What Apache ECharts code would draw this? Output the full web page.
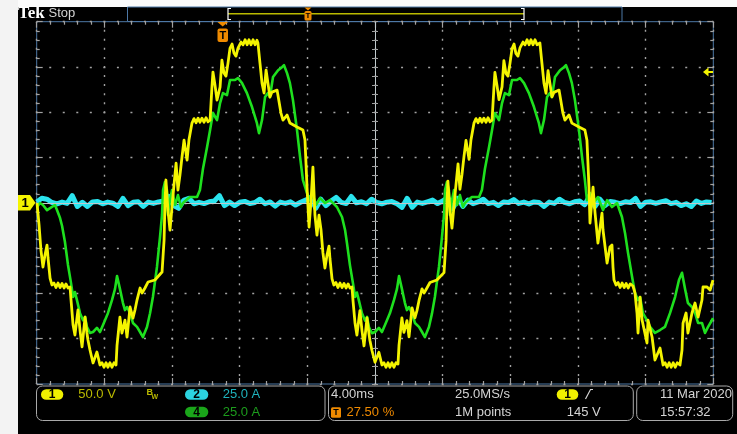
<!DOCTYPE html>
<html>
<head>
<meta charset="utf-8">
<script src="https://cdn.jsdelivr.net/npm/echarts/dist/echarts.min.js"></script>
<style>
html,body{margin:0;padding:0;background:#ffffff;}
#scope{width:737px;height:434px;}
</style>
</head>
<body>
<div id="scope"></div>
<script>
// Channel 1 (mains voltage, V) against time in ms, 0 ms = screen centre
const ch1Volts = [
  [-19.98,-0.2],[-19.86,-24.5],[-19.75,-52.1],[-19.63,-70.9],[-19.51,-57.6],[-19.39,-46.6],[-19.33,-60.9],[-19.21,-83.0],
  [-19.10,-90.7],[-18.98,-88.5],[-18.86,-93.5],[-18.74,-88.5],[-18.62,-93.5],[-18.50,-89.0],[-18.38,-94.0],[-18.27,-89.5],
  [-18.15,-94.0],[-18.03,-92.9],[-17.97,-107.3],[-17.85,-134.9],[-17.74,-145.9],[-17.62,-127.2],[-17.56,-118.3],
  [-17.44,-140.4],[-17.32,-159.1],[-17.14,-126.1],[-17.03,-143.7],[-16.97,-151.4],[-16.85,-162.5],[-16.67,-176.8],[-16.44,-164.7],
  [-16.26,-179.0],[-16.14,-176.5],[-16.02,-181.5],[-15.90,-176.5],[-15.79,-181.5],[-15.67,-176.5],[-15.55,-181.5],[-15.43,-176.5],
  [-15.31,-179.0],[-15.25,-157.0],[-15.08,-126.1],[-14.96,-143.7],[-14.78,-129.4],[-14.66,-148.1],
  [-14.48,-115.0],[-14.31,-127.2],[-14.19,-118.3],[-14.07,-107.3],[-13.89,-94.0],[-13.77,-99.5],[-13.60,-94.0],[-13.42,-87.4],
  [-13.01,-85.2],[-12.59,-76.4],[-12.47,-41.1],[-12.42,-2.4],[-12.36,25.2],[-12.24,-8.0],[-12.12,-30.0],[-11.94,8.6],
  [-11.76,43.9],[-11.65,14.1],[-11.53,30.7],[-11.41,50.6],[-11.29,69.3],[-11.11,47.2],[-11.00,69.3],[-10.82,88.1],
  [-10.70,93.0],[-10.58,88.5],[-10.46,93.5],[-10.35,89.0],[-10.23,93.5],[-10.11,89.0],[-9.99,94.0],[-9.87,89.5],
  [-9.75,91.4],[-9.64,127.8],[-9.58,144.4],[-9.46,130.0],[-9.34,113.5],[-9.16,127.8],[-9.05,157.6],
  [-8.93,143.3],[-8.81,139.9],[-8.69,154.3],[-8.57,170.9],[-8.45,175.3],[-8.34,165.4],[-8.22,162.0],[-8.10,170.9],
  [-7.92,177.5],[-7.80,174.5],[-7.68,180.0],[-7.56,174.5],[-7.45,180.0],[-7.33,174.5],[-7.21,180.0],[-7.09,174.5],
  [-6.98,179.5],[-6.92,176.4],[-6.80,154.3],[-6.68,132.2],[-6.56,121.2],[-6.44,146.6],[-6.33,132.2],
  [-6.21,116.8],[-6.09,122.3],[-5.79,124.5],[-5.56,99.1],[-5.44,91.4],[-5.20,96.9],[-5.03,88.1],[-4.61,83.7],
  [-4.26,80.4],[-4.14,69.3],[-4.08,43.9],[-4.02,17.4],[-3.90,-26.7],[-3.78,3.1],[-3.67,39.5],[-3.55,-13.5],
  [-3.43,-35.5],[-3.31,-13.5],[-3.19,-30.0],[-3.08,-55.0],[-2.96,-72.0],[-2.84,-58.0],[-2.72,-47.7],[-2.66,-62.0],
  [-2.54,-84.0],[-2.43,-90.7],[-2.31,-88.0],[-2.19,-93.5],[-2.07,-88.5],[-1.95,-93.5],[-1.83,-89.0],[-1.71,-94.0],
  [-1.59,-89.5],[-1.48,-94.0],[-1.36,-92.9],[-1.30,-108.0],[-1.18,-133.0],[-1.07,-146.0],[-0.95,-128.0],
  [-0.89,-119.0],[-0.77,-141.0],[-0.65,-158.0],[-0.47,-127.0],[-0.36,-144.0],[-0.30,-152.0],[-0.18,-163.0],[0.00,-176.0],
  [0.23,-165.0],[0.41,-179.0],[0.53,-176.5],[0.65,-181.5],[0.77,-176.5],[0.88,-181.5],[1.00,-176.5],[1.12,-181.5],
  [1.24,-176.5],[1.36,-178.0],[1.42,-157.0],[1.59,-127.0],[1.71,-143.0],[1.89,-130.0],
  [2.01,-148.0],[2.19,-116.0],[2.36,-127.0],[2.48,-119.0],[2.60,-108.0],[2.78,-95.0],[2.90,-99.5],[3.07,-94.0],
  [3.25,-88.0],[3.66,-85.2],[4.08,-77.0],[4.20,-42.0],[4.25,-3.0],[4.31,24.0],[4.43,-8.0],[4.55,-28.0],
  [4.73,9.0],[4.91,43.0],[5.02,15.0],[5.14,31.0],[5.26,51.0],[5.38,69.0],[5.56,48.0],[5.67,69.0],
  [5.85,88.0],[5.97,93.0],[6.09,88.5],[6.21,93.5],[6.32,89.0],[6.44,93.5],[6.56,89.0],[6.68,94.0],[6.80,89.5],
  [6.92,91.4],[7.03,127.0],[7.09,144.0],[7.21,130.0],[7.33,114.0],[7.51,128.0],
  [7.62,157.0],[7.74,143.0],[7.86,140.0],[7.98,154.0],[8.10,170.0],[8.22,175.3],[8.33,165.0],[8.45,162.0],
  [8.57,171.0],[8.75,177.5],[8.87,174.5],[8.99,180.0],[9.11,174.5],[9.22,180.0],[9.34,174.5],[9.46,180.0],[9.58,174.5],
  [9.75,176.4],[9.87,154.0],[9.99,132.0],[10.11,121.0],[10.23,146.0],
  [10.34,132.0],[10.46,117.0],[10.58,122.0],[10.88,124.5],[11.11,99.0],[11.23,91.4],[11.47,97.0],[11.64,88.0],
  [12.06,83.7],[12.41,80.4],[12.53,69.0],[12.59,44.0],[12.65,17.0],[12.71,-22.3],[12.89,17.4],[13.01,-11.3],
  [13.18,-44.4],[13.42,-11.3],[13.48,-30.0],[13.72,-66.4],[13.89,-48.8],[14.01,-46.6],[14.07,-70.9],[14.13,-85.2],
  [14.25,-90.7],[14.37,-88.0],[14.49,-93.5],[14.61,-88.5],[14.73,-93.5],[14.85,-89.0],[14.97,-94.0],[15.09,-89.5],
  [15.25,-91.8],[15.37,-99.5],[15.49,-121.6],[15.55,-143.7],[15.67,-104.0],[15.79,-129.4],[16.08,-154.8],
  [16.14,-129.4],[16.38,-148.1],[16.55,-173.5],[16.85,-160.3],[17.03,-179.0],[17.15,-176.5],[17.27,-181.5],[17.39,-176.5],
  [17.51,-181.5],[17.63,-176.5],[17.75,-181.5],[17.87,-176.5],[18.03,-179.0],[18.15,-162.5],
  [18.21,-132.7],[18.39,-121.6],[18.50,-143.7],[18.74,-121.6],[18.92,-110.6],[19.10,-126.1],[19.33,-107.3],[19.39,-92.9],
  [19.63,-92.9],[19.81,-96.3],[19.98,-85.2]
];

// Channel 4 (line current, A) against time in ms
const ch4Amps = [
  [-19.98,-2.3],[-19.81,-0.1],[-19.63,-1.2],[-19.39,-4.0],[-19.21,-2.9],[-19.10,-1.8],[-18.92,-1.2],[-18.80,-4.0],
  [-18.62,-8.4],[-18.50,-12.8],[-18.33,-21.6],[-18.15,-34.3],[-17.97,-44.3],[-17.85,-52.0],[-17.74,-49.2],[-17.62,-53.7],
  [-17.44,-60.9],[-17.26,-64.8],[-17.14,-63.0],[-17.03,-68.5],[-16.85,-71.8],[-16.67,-71.3],[-16.44,-69.0],[-16.26,-71.3],
  [-16.08,-67.4],[-15.79,-60.9],[-15.55,-53.7],[-15.37,-47.5],[-15.25,-40.4],[-15.08,-47.5],[-14.90,-55.3],[-14.78,-59.2],
  [-14.66,-57.5],[-14.48,-60.9],[-14.31,-66.3],[-14.07,-68.5],[-13.89,-71.3],[-13.72,-74.1],[-13.48,-68.5],[-13.30,-60.9],
  [-13.13,-52.0],[-12.89,-35.4],[-12.71,-18.8],[-12.59,-6.7],[-12.53,7.1],[-12.42,11.5],[-12.30,7.1],[-12.24,-6.7],
  [-12.12,1.5],[-12.00,7.1],[-11.82,-1.2],[-11.65,4.3],[-11.47,-2.3],[-11.35,-0.1],[-11.17,1.5],[-10.94,3.2],
  [-10.52,3.2],[-10.35,7.1],[-10.17,18.8],[-9.93,30.7],[-9.75,40.2],[-9.58,49.6],[-9.34,45.7],[-9.16,55.1],
  [-8.99,60.6],[-8.75,59.5],[-8.57,67.8],[-8.28,67.8],[-8.10,68.9],[-7.86,66.1],[-7.57,60.6],[-7.27,52.9],
  [-6.98,44.0],[-6.86,38.5],[-6.68,45.7],[-6.50,58.4],[-6.33,60.6],[-6.21,58.4],[-6.03,69.5],[-5.73,73.2],
  [-5.50,74.9],[-5.38,76.0],[-5.20,71.6],[-5.03,66.1],[-4.85,56.7],[-4.61,40.2],[-4.43,25.3],[-4.26,12.6],
  [-4.02,5.4],[-3.84,1.5],[-3.67,4.3],[-3.49,-1.2],[-3.25,2.6],[-2.96,-0.1],[-2.66,1.5],[-2.42,-0.7],
  [-2.25,-2.3],[-1.95,-7.8],[-1.77,-15.0],[-1.66,-22.0],[-1.48,-34.5],[-1.30,-44.5],[-1.18,-52.0],[-1.07,-49.5],
  [-0.95,-54.0],[-0.77,-61.0],[-0.59,-65.0],[-0.47,-63.0],[-0.36,-68.5],[-0.18,-72.0],[0.00,-71.3],[0.23,-69.0],
  [0.41,-71.3],[0.59,-67.4],[0.88,-61.0],[1.12,-53.7],[1.30,-47.5],[1.42,-40.4],[1.59,-47.5],[1.77,-55.3],
  [1.89,-59.2],[2.01,-57.5],[2.19,-61.0],[2.36,-66.3],[2.60,-68.5],[2.78,-71.3],[2.95,-74.1],[3.19,-68.5],
  [3.37,-61.0],[3.54,-52.0],[3.78,-35.4],[3.96,-18.8],[4.08,-6.7],[4.14,7.1],[4.25,11.5],[4.37,7.1],
  [4.43,-6.7],[4.55,1.5],[4.67,7.1],[4.85,-1.2],[5.02,4.3],[5.20,-2.3],[5.32,-0.1],[5.50,1.5],
  [5.73,3.2],[6.15,3.2],[6.32,7.1],[6.50,18.8],[6.74,30.7],[6.92,40.2],[7.09,49.6],[7.33,45.7],
  [7.51,55.1],[7.68,60.6],[7.92,59.5],[8.10,67.8],[8.39,67.8],[8.57,68.9],[8.81,66.1],[9.10,60.6],
  [9.40,52.9],[9.69,44.0],[9.81,38.5],[9.99,45.7],[10.17,58.4],[10.34,60.6],[10.46,58.4],[10.64,69.5],
  [10.94,73.2],[11.17,74.9],[11.29,76.0],[11.47,71.6],[11.64,66.1],[11.82,56.7],[12.06,40.2],[12.24,25.3],
  [12.41,12.6],[12.53,1.5],[12.71,5.4],[12.89,-0.1],[13.18,3.2],[13.48,-4.0],[13.72,1.5],[14.01,-2.3],
  [14.31,-0.1],[14.60,-7.8],[14.78,-16.6],[14.96,-27.7],[15.20,-40.9],[15.37,-49.8],[15.55,-53.7],[15.67,-52.0],
  [15.84,-60.9],[16.08,-64.8],[16.26,-68.5],[16.55,-71.8],[16.85,-70.2],[17.14,-68.5],[17.44,-60.9],[17.74,-52.0],
  [17.97,-42.6],[18.15,-38.6],[18.33,-47.5],[18.50,-55.3],[18.74,-57.5],[18.92,-60.9],[19.10,-66.3],[19.33,-66.3],
  [19.51,-71.8],[19.69,-68.5],[19.92,-64.8],[19.98,-63.6]
];

// Channel 2 (neutral current, A), sampled every 0.3 ms from -20 ms
const ch2StartMs = -20;
const ch2StepMs = 0.3;
const ch2Amps = [
  0.5,2.5,2.0,0.2,-0.6,0.4,-0.3,4.0,-2.0,0.3,-2.0,0.5,0.8,-0.5,0.4,-0.2,-2.0,2.5,-1.5,0.3,
  0.6,-2.0,0.4,-0.3,0.5,1.0,3.5,-1.5,-3.0,1.5,2.5,-0.5,0.3,-0.4,0.6,1.0,4.0,-1.5,0.4,-1.5,
  0.3,0.8,-0.4,0.2,2.0,-0.5,0.5,-1.8,0.4,-0.3,0.6,-1.2,0.3,1.5,3.0,-3.0,2.0,-1.5,1.0,3.0,
  0.3,-0.4,3.5,0.0,0.6,-0.5,2.0,0.2,-0.5,0.4,0.7,-0.5,-2.5,2.5,-2.5,0.4,-0.3,0.6,1.5,-0.4,
  1.0,3.0,-3.0,2.5,-2.0,1.5,-0.5,0.5,2.0,-0.4,0.3,-1.5,0.5,0.2,1.8,-0.3,0.4,-0.6,0.5,0.2,
  -2.0,0.4,-0.3,2.0,0.3,-0.5,0.6,1.0,-1.0,4.0,-2.0,2.0,-1.5,0.8,0.3,-0.4,0.6,0.2,2.5,-2.0,
  0.4,0.6,-0.3,0.5,1.2,-0.4,0.3,-1.5,-0.5,-2.0,1.0,-0.3,0.5,0.2
];

// Screen scale: 4 ms/div horizontally, 50 V/div (ch1) and 25 A/div (ch2, ch4) vertically
const timeRange = [-20, 20];
const voltRange = [-200, 200];
const ampRange = [-100, 100];

const COL = {
  ch1: '#f4f400', ch2: '#2ae4ee', ch4: '#1ee01e',
  dot: '#a2a2a2', frame: '#4d78a6', panel: '#a9a9a9',
  text: '#d4d4d4', orange: '#ef8a00'
};
const FONT = '"Liberation Sans", Arial, sans-serif';

const chart = echarts.init(document.getElementById('scope'), null, {renderer: 'canvas', width: 737, height: 434});

// graticule dots sit on every fifth of a division
const dotV = {color: COL.dot, width: 1.4, type: [2, 7.0575], dashOffset: 1};
const dotH = {color: COL.dot, width: 1.4, type: [2, 11.532], dashOffset: 1};
const tickStyle = {color: COL.dot, width: 1.2};

function borderAxis(extra) {
  return Object.assign({
    type: 'value', gridIndex: 0,
    axisLine: {show: false, onZero: false},
    axisLabel: {show: false},
    axisTick: {show: true, inside: true, length: 6, lineStyle: tickStyle},
    minorTick: {show: true, splitNumber: 5, length: 3, lineStyle: tickStyle},
    splitLine: {show: false}
  }, extra);
}
function centreAxis(extra, inside) {
  return Object.assign({
    type: 'value', gridIndex: 0, z: 1.5,
    axisLine: {show: true, onZero: true, lineStyle: {color: '#bfc9cc', width: 1}},
    axisLabel: {show: false},
    axisTick: {show: true, inside: inside, length: 3, lineStyle: {color: '#a0a0a0', width: 1}},
    minorTick: {show: true, splitNumber: 5, length: 3, lineStyle: {color: '#a0a0a0', width: 1}},
    splitLine: {show: false}
  }, extra);
}

const tRange = {min: timeRange[0], max: timeRange[1], interval: 4};
const vRange = {min: voltRange[0], max: voltRange[1], interval: 50};

// small drawing helpers for the on-screen readouts
function txt(x, y, s, fill, size, extra) {
  return Object.assign({
    type: 'text', x: x, y: y, silent: true,
    style: Object.assign({text: s, fill: fill, font: (size || 13) + 'px ' + FONT,
      align: 'left', verticalAlign: 'middle', textAlign: 'left', textVerticalAlign: 'middle'}, (extra && extra.style) || {})
  }, extra && extra.z != null ? {z: extra.z} : {});
}
function badge(x, y, w, h, fill, label) {
  return [
    {type: 'rect', shape: {x: x, y: y, width: w, height: h, r: h / 2}, style: {fill: fill}, silent: true},
    {type: 'text', x: x + w / 2, y: y + h / 2 + 0.5, silent: true,
      style: {text: label, fill: '#000', font: 'bold 12px ' + FONT, align: 'center', verticalAlign: 'middle', textAlign: 'center', textVerticalAlign: 'middle'}}
  ];
}
function panelBox(x, y, w, h) {
  return {type: 'rect', shape: {x: x, y: y, width: w, height: h, r: 6}, style: {fill: 'none', stroke: COL.panel, lineWidth: 1}, silent: true};
}

const graphics = [
  // white margins around the instrument screen
  {type: 'rect', shape: {x: 0, y: 0, width: 737, height: 7}, style: {fill: '#fbfbfb'}, silent: true},
  {type: 'rect', shape: {x: 0, y: 0, width: 18, height: 434}, style: {fill: '#f3f3f3'}, silent: true},
  // status bar
  txt(18, 13.5, 'Tek', '#ffffff', 17, {style: {font: 'bold 17px "Liberation Serif", "DejaVu Serif", serif'}}),
  txt(48.5, 13.5, 'Stop', COL.text, 13),
  {type: 'rect', shape: {x: 127.5, y: 7, width: 494.5, height: 14.5}, style: {fill: '#000', stroke: COL.frame, lineWidth: 1}, silent: true},
  {type: 'line', shape: {x1: 228, y1: 13.7, x2: 524, y2: 13.7}, style: {stroke: '#b9b900', lineWidth: 1.5}, silent: true},
  {type: 'polyline', shape: {points: [[231, 8.5], [228, 8.5], [228, 19.5], [231, 19.5]]}, style: {stroke: '#ffffff', lineWidth: 1.2, fill: null}, silent: true},
  {type: 'polyline', shape: {points: [[521, 8.5], [524, 8.5], [524, 19.5], [521, 19.5]]}, style: {stroke: '#ffffff', lineWidth: 1.2, fill: null}, silent: true},
  {type: 'polygon', shape: {points: [[304.5, 7.5], [311.5, 7.5], [308, 10.5]]}, style: {fill: COL.orange}, silent: true},
  {type: 'rect', shape: {x: 304.5, y: 11, width: 7, height: 9.5, r: 1.5}, style: {fill: COL.orange}, silent: true},
  {type: 'text', x: 308, y: 16, silent: true, style: {text: 'T', fill: '#000', font: 'bold 8px ' + FONT, align: 'center', verticalAlign: 'middle', textAlign: 'center', textVerticalAlign: 'middle'}},
  // trigger position marker
  {type: 'polygon', shape: {points: [[217.5, 22], [228, 22], [222.7, 26.5]]}, style: {fill: COL.orange}, silent: true, z: 10},
  {type: 'rect', shape: {x: 217.5, y: 28.5, width: 10.5, height: 13.5, r: 2}, style: {fill: COL.orange}, silent: true, z: 10},
  {type: 'text', x: 222.8, y: 35.5, silent: true, z: 10, style: {text: 'T', fill: '#000', font: 'bold 11px ' + FONT, align: 'center', verticalAlign: 'middle', textAlign: 'center', textVerticalAlign: 'middle'}},
  // trigger level arrow
  {type: 'polygon', shape: {points: [[703, 72], [708.5, 67.5], [708.5, 76.5]]}, style: {fill: COL.ch1}, silent: true, z: 10},
  {type: 'rect', shape: {x: 708, y: 71, width: 5, height: 2}, style: {fill: COL.ch1}, silent: true, z: 10},
  // channel 1 ground marker
  {type: 'polygon', shape: {points: [[18, 195], [30, 195], [35.5, 202.7], [30, 210.4], [18, 210.4]]}, style: {fill: COL.ch1}, silent: true, z: 10},
  {type: 'text', x: 25, y: 203, silent: true, z: 10, style: {text: '1', fill: '#000', font: 'bold 13px ' + FONT, align: 'center', verticalAlign: 'middle', textAlign: 'center', textVerticalAlign: 'middle'}},
  // readout panels
  panelBox(36.5, 386, 288.5, 34.5),
  panelBox(328.5, 386, 304.8, 34.5),
  panelBox(636.7, 386, 96, 34.5)
].concat(
  badge(41, 389.3, 22.3, 10.5, '#f0f000', '1'),
  [txt(78.3, 394.5, '50.0 V', '#b9b900', 13),
   txt(146.5, 392.5, 'B', '#b9b900', 9, {style: {font: 'bold 9px ' + FONT}}),
   txt(151.5, 397, 'W', '#b9b900', 7, {style: {font: 'bold 7px ' + FONT}})],
  badge(185, 389.3, 23.3, 10.5, '#2cd3e0', '2'),
  [txt(222.7, 394.5, '25.0 A', '#1fb3bd', 13)],
  badge(185, 406.8, 23.3, 10.5, '#1aa61a', '4'),
  [txt(222.7, 412, '25.0 A', '#1c9c1c', 13)],
  [txt(331, 394.5, '4.00ms', COL.text, 13),
   {type: 'rect', shape: {x: 331, y: 407.3, width: 10, height: 10.5, r: 1.5}, style: {fill: COL.orange}, silent: true},
   {type: 'text', x: 336, y: 412.8, silent: true, style: {text: 'T', fill: '#000', font: 'bold 9px ' + FONT, align: 'center', verticalAlign: 'middle', textAlign: 'center', textVerticalAlign: 'middle'}},
   txt(346.5, 412.5, '27.50 %', COL.orange, 13),
   txt(455, 394.5, '25.0MS/s', COL.text, 13),
   txt(455, 412.5, '1M points', COL.text, 13)],
  badge(556.7, 389.3, 21.6, 10.5, '#f0f000', '1'),
  [{type: 'polyline', shape: {points: [[585.5, 399], [590.5, 389.5], [593, 389.5]]}, style: {stroke: COL.text, lineWidth: 1.2, fill: null}, silent: true},
   txt(566.7, 412.5, '145 V', COL.text, 13),
   txt(660, 394.5, '11 Mar', COL.text, 13),
   txt(732, 394.5, '2020', COL.text, 13, {style: {align: 'right', textAlign: 'right'}}),
   txt(660, 412.5, '15:57:32', COL.text, 13)]
);

chart.setOption({
  animation: false,
  backgroundColor: '#000000',
  grid: {left: 36.7, top: 21.7, width: 676.6, height: 362.3, show: true, borderColor: COL.frame, borderWidth: 1, backgroundColor: 'transparent'},
  xAxis: [
    borderAxis(Object.assign({position: 'bottom', splitLine: {show: true, lineStyle: dotV}}, tRange)),
    borderAxis(Object.assign({position: 'top'}, tRange)),
    centreAxis(Object.assign({position: 'bottom', axisTick: {show: false}, minorTick: {show: false}}, tRange), true)
  ],
  yAxis: [
    borderAxis(Object.assign({position: 'left', splitLine: {show: true, lineStyle: dotH}}, vRange)),
    borderAxis(Object.assign({position: 'right'}, vRange)),
    centreAxis(Object.assign({position: 'left'}, vRange), true),
    centreAxis(Object.assign({position: 'left'}, vRange), false),
    {type: 'value', gridIndex: 0, min: ampRange[0], max: ampRange[1], show: false}
  ],
  graphic: {elements: graphics},
  series: [
    {
      name: 'CH2', type: 'line', xAxisIndex: 0, yAxisIndex: 4, z: 1,
      data: ch2Amps.map((a, i) => [ch2StartMs + i * ch2StepMs, a]),
      showSymbol: false, symbol: 'none', silent: true,
      lineStyle: {color: COL.ch2, width: 5, join: 'round'}
    },
    {
      name: 'CH4', type: 'line', xAxisIndex: 0, yAxisIndex: 4, z: 3,
      data: ch4Amps, showSymbol: false, symbol: 'none', silent: true,
      lineStyle: {color: COL.ch4, width: 2.6, join: 'round'}
    },
    {
      name: 'CH1', type: 'line', xAxisIndex: 0, yAxisIndex: 0, z: 4,
      data: ch1Volts, showSymbol: false, symbol: 'none', silent: true,
      lineStyle: {color: COL.ch1, width: 2.8, join: 'round'}
    }
  ]
});
</script>
</body>
</html>
